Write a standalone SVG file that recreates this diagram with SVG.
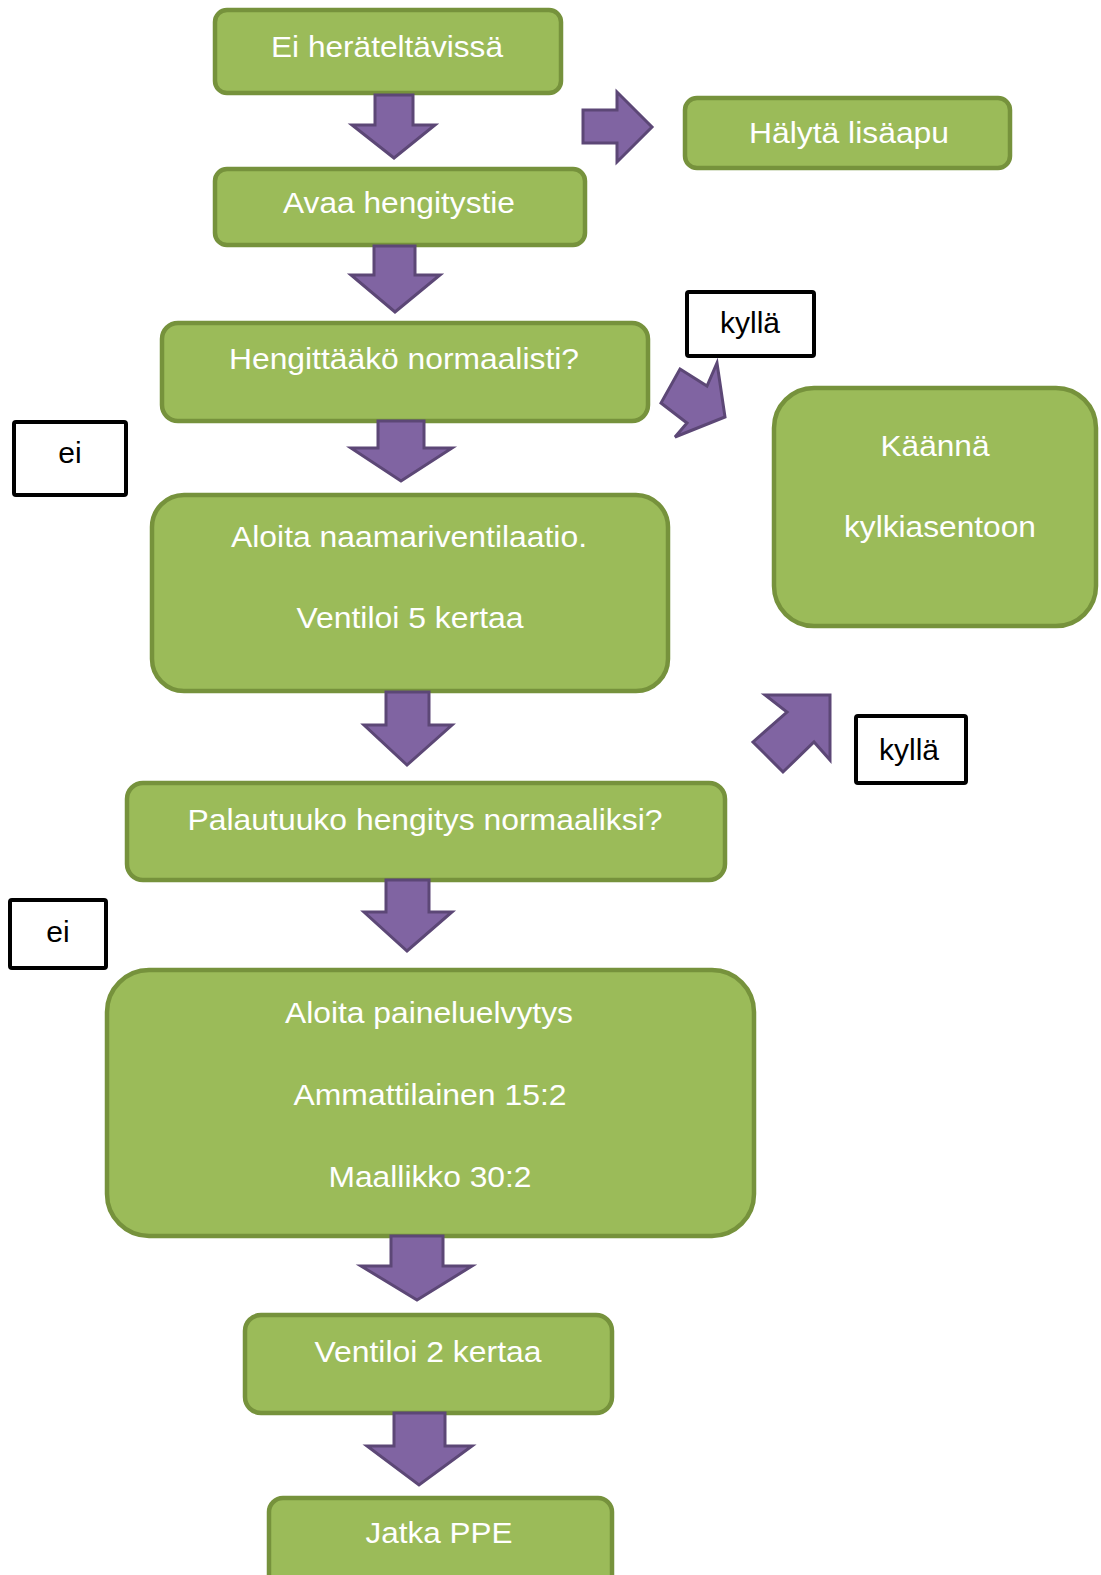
<svg xmlns="http://www.w3.org/2000/svg" width="1101" height="1575" viewBox="0 0 1101 1575">
<style>
.box{fill:#9BBB59;stroke:#76923C;stroke-width:4.5}
.lbl{fill:#FFFFFF;stroke:#000000;stroke-width:4}
.arr{fill:#8064A2;stroke:#5C4776;stroke-width:3;stroke-linejoin:miter}
.wt{font-family:"Liberation Sans",Arial,sans-serif;font-size:30px;fill:#FFFFFF;text-anchor:middle}
.bt{font-family:"Liberation Sans",Arial,sans-serif;font-size:30px;fill:#000000;text-anchor:middle}
</style>
<rect width="1101" height="1575" fill="#FFFFFF"/>
<g id="n1"><rect class="box" x="215" y="10" width="346" height="83" rx="12"/><text class="wt" x="387" y="57" textLength="232" lengthAdjust="spacingAndGlyphs">Ei heräteltävissä</text></g>
<g id="n2"><rect class="box" x="215" y="169" width="370" height="76" rx="12"/><text class="wt" x="399" y="213" textLength="232" lengthAdjust="spacingAndGlyphs">Avaa hengitystie</text></g>
<g id="n3"><rect class="box" x="685" y="98" width="325" height="70" rx="12"/><text class="wt" x="849" y="143" textLength="200" lengthAdjust="spacingAndGlyphs">Hälytä lisäapu</text></g>
<g id="n4"><rect class="box" x="162" y="323" width="486" height="98" rx="16"/><text class="wt" x="404" y="369" textLength="350" lengthAdjust="spacingAndGlyphs">Hengittääkö normaalisti?</text></g>
<g id="n5"><rect class="box" x="152" y="495" width="516" height="196" rx="32"/><text class="wt" x="409" y="547" textLength="356" lengthAdjust="spacingAndGlyphs">Aloita naamariventilaatio.</text><text class="wt" x="410" y="628" textLength="227" lengthAdjust="spacingAndGlyphs">Ventiloi 5 kertaa</text></g>
<g id="n6"><rect class="box" x="774" y="388" width="322" height="238" rx="40"/><text class="wt" x="935" y="456" textLength="109" lengthAdjust="spacingAndGlyphs">Käännä</text><text class="wt" x="940" y="537" textLength="192" lengthAdjust="spacingAndGlyphs">kylkiasentoon</text></g>
<g id="n7"><rect class="box" x="127" y="783" width="598" height="97" rx="16"/><text class="wt" x="425" y="830" textLength="475" lengthAdjust="spacingAndGlyphs">Palautuuko hengitys normaaliksi?</text></g>
<g id="n8"><rect class="box" x="107" y="970" width="647" height="266" rx="42"/><text class="wt" x="429" y="1023" textLength="288" lengthAdjust="spacingAndGlyphs">Aloita paineluelvytys</text><text class="wt" x="430" y="1105" textLength="273" lengthAdjust="spacingAndGlyphs">Ammattilainen 15:2</text><text class="wt" x="430" y="1187" textLength="203" lengthAdjust="spacingAndGlyphs">Maallikko 30:2</text></g>
<g id="n9"><rect class="box" x="245" y="1315" width="367" height="98" rx="16"/><text class="wt" x="428" y="1362" textLength="227" lengthAdjust="spacingAndGlyphs">Ventiloi 2 kertaa</text></g>
<g id="n10"><rect class="box" x="269" y="1498" width="343" height="100" rx="14"/><text class="wt" x="439" y="1543" textLength="147" lengthAdjust="spacingAndGlyphs">Jatka PPE</text></g>
<g id="l1"><rect class="lbl" x="687" y="292" width="127" height="64" rx="2"/><text class="bt" x="750" y="333">kyllä</text></g>
<g id="l2"><rect class="lbl" x="856" y="716" width="110" height="67" rx="2"/><text class="bt" x="909" y="760">kyllä</text></g>
<g id="l3"><rect class="lbl" x="14" y="422" width="112" height="73" rx="2"/><text class="bt" x="70" y="463">ei</text></g>
<g id="l4"><rect class="lbl" x="10" y="900" width="96" height="68" rx="2"/><text class="bt" x="58" y="942">ei</text></g>
<g id="connectors">
<polygon class="arr" points="375,95 413,95 413,125 435,125 394,158 352,125 375,125"/>
<polygon class="arr" points="583,110 617,110 617,92 652,127 617,162 617,143 583,143"/>
<polygon class="arr" points="374,246 415,246 415,275 440,275 395,312 351,275 374,275"/>
<polygon class="arr" points="378,421 424,421 424,448 452,448 401,481 351,448 378,448"/>
<polygon class="arr" points="680,369 707,386 717,363 725,417 675,437 687,423 661,403"/>
<polygon class="arr" points="765,695 830,695 830,760 814,742 783,772 753,742 787,712"/>
<polygon class="arr" points="386,692 429,692 429,725 452,725 407,765 364,725 386,725"/>
<polygon class="arr" points="386,880 429,880 429,912 452,912 407,951 364,912 386,912"/>
<polygon class="arr" points="391,1236 443,1236 443,1266 472,1266 417,1300 361,1266 391,1266"/>
<polygon class="arr" points="394,1413 445,1413 445,1446 472,1446 419,1485 367,1446 394,1446"/>
</g>
</svg>
